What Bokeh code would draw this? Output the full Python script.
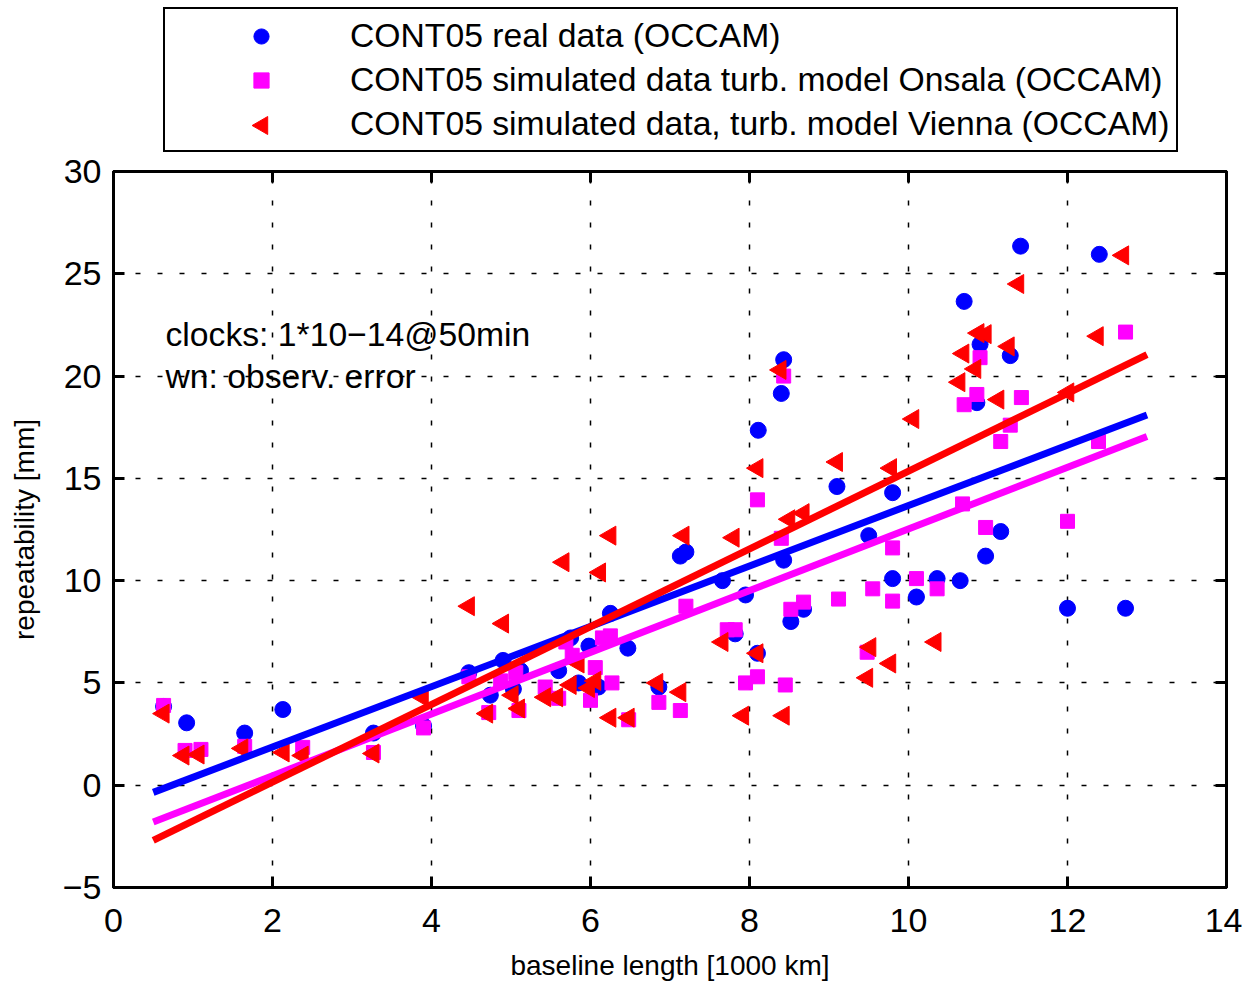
import numpy as np
from bokeh.plotting import figure
from bokeh.layouts import column
from bokeh.models import (Range1d, LinearAxis, FixedTicker, Legend, LegendItem,
                          Label, CustomJSTickFormatter)
from bokeh.embed import file_html
from bokeh.resources import INLINE

FONT = "Liberation Sans"

# ---------------- data ----------------
real_x = [0.63, 0.92, 1.65, 2.13, 3.27, 3.9, 4.47, 4.74, 4.9, 5.03, 5.12, 5.6, 5.75,
          5.85, 5.98, 6.1, 6.25, 6.47, 6.86, 7.13, 7.2, 7.66, 7.82, 7.95, 8.1, 8.11,
          8.4, 8.43, 8.43, 8.52, 8.68, 9.1, 9.5, 9.8, 9.8, 10.1, 10.36, 10.65, 10.7,
          10.86, 10.9, 10.97, 11.16, 11.28, 11.41, 12.0, 12.4, 12.73]
real_y = [3.85, 3.05, 2.55, 3.7, 2.55, 2.9, 5.5, 4.4, 6.1, 4.7, 5.6, 5.6, 7.2,
          5.0, 6.8, 4.8, 8.4, 6.7, 4.8, 11.2, 11.4, 10.0, 7.4, 9.3, 6.45, 17.35,
          19.15, 20.8, 11.0, 8.0, 8.6, 14.6, 12.2, 14.3, 10.1, 9.2, 10.1, 10.0, 23.65,
          18.7, 21.55, 11.2, 12.4, 21.0, 26.35, 8.65, 25.95, 8.65]

onsala_x = [0.63, 0.9, 1.1, 1.65, 2.38, 3.27, 3.9, 4.47, 4.72, 4.87, 5.06, 5.1, 5.43,
            5.6, 5.69, 5.77, 6.0, 6.06, 6.15, 6.25, 6.27, 6.48, 6.86, 7.13, 7.2, 7.72,
            7.82, 7.95, 8.1, 8.1, 8.4, 8.43, 8.45, 8.52, 8.68, 9.12, 9.48, 9.55, 9.8,
            9.8, 10.1, 10.36, 10.68, 10.7, 10.86, 10.9, 10.97, 11.16, 11.28, 11.42,
            12.0, 12.39, 12.73]
onsala_y = [3.9, 1.7, 1.75, 1.9, 1.85, 1.6, 2.8, 5.3, 3.55, 5.1, 5.5, 3.65, 4.8,
            4.25, 7.0, 6.35, 4.15, 5.75, 7.2, 7.3, 5.0, 3.2, 4.05, 3.65, 8.75, 7.6,
            7.6, 5.0, 5.3, 13.95, 12.07, 20.0, 4.9, 8.6, 8.95, 9.1, 6.5, 9.6, 11.6,
            9.0, 10.1, 9.6, 13.75, 18.6, 19.1, 20.9, 12.6, 16.8, 17.6, 18.95,
            12.9, 16.8, 22.15]

vienna_x = [0.63, 0.88, 1.07, 1.62, 2.14, 2.38, 3.27, 3.89, 4.47, 4.7, 4.9, 5.02, 5.1,
            5.43, 5.58, 5.66, 5.75, 5.85, 5.98, 6.06, 6.12, 6.25, 6.25, 6.48, 6.84,
            7.13, 7.17, 7.66, 7.8, 7.92, 8.1, 8.1, 8.39, 8.43, 8.5, 8.68, 9.1, 9.48,
            9.52, 9.77, 9.78, 10.06, 10.34, 10.64, 10.69, 10.84, 10.88, 10.97, 11.13,
            11.26, 11.38, 12.01, 12.38, 12.7]
vienna_y = [3.5, 1.45, 1.5, 1.8, 1.6, 1.45, 1.55, 4.3, 8.75, 3.5, 7.9, 4.4, 3.75,
            4.3, 4.3, 10.9, 4.9, 5.95, 4.75, 5.1, 10.4, 12.2, 3.3, 3.3, 5.0,
            4.55, 12.2, 7.0, 12.1, 3.4, 6.45, 15.5, 20.3, 3.4, 13.0, 13.3, 15.8, 5.25,
            6.75, 5.95, 15.5, 17.9, 7.0, 19.7, 21.1, 20.35, 22.1, 22.05, 18.85,
            21.45, 24.5, 19.2, 21.95, 25.9]

# linear fits (end values)
fit_x = [0.5, 13.0]
fit_real = [-0.35, 18.1]
fit_onsala = [-1.8, 17.05]
fit_vienna = [-2.7, 21.05]

x_ticks = [0, 2, 4, 6, 8, 10, 12, 14]
y_ticks = [-5, 0, 5, 10, 15, 20, 25, 30]

labels = ["CONT05 real data (OCCAM)",
          "CONT05 simulated data turb. model Onsala (OCCAM)",
          "CONT05 simulated data, turb. model Vienna (OCCAM)"]

BLUE, MAGENTA, RED = "#0000FF", "#FF00FF", "#FF0000"
LEFT, FRAME_W, RIGHT = 113, 1113, 16
W = LEFT + FRAME_W + RIGHT
LEG_H = 153

# ---------------- main figure ----------------
p = figure(frame_width=FRAME_W, frame_height=716, output_backend="svg", toolbar_location=None,
           x_range=Range1d(0, 14), y_range=Range1d(-5, 30),
           min_border_left=LEFT, min_border_right=RIGHT, min_border_top=171 - LEG_H,
           min_border_bottom=88)
p.background_fill_color = "white"
p.border_fill_color = "white"
p.outline_line_color = "black"
p.outline_line_width = 3

empty = CustomJSTickFormatter(code="return ''")
ax_right = LinearAxis(formatter=empty)
ax_top = LinearAxis(formatter=empty)
p.add_layout(ax_right, "right")
p.add_layout(ax_top, "above")

ax_bottom = p.below[0]
ax_left = p.left[0]
ax_bottom.ticker = FixedTicker(ticks=x_ticks)
ax_top.ticker = FixedTicker(ticks=x_ticks)
ax_left.ticker = FixedTicker(ticks=y_ticks)
ax_right.ticker = FixedTicker(ticks=y_ticks)
p.xgrid.ticker = FixedTicker(ticks=x_ticks)
p.ygrid.ticker = FixedTicker(ticks=y_ticks)

for ax in (ax_bottom, ax_left, ax_right, ax_top):
    ax.axis_line_color = "black"
    ax.axis_line_width = 3
    ax.major_tick_line_color = "black"
    ax.major_tick_line_width = 3
    ax.major_tick_in = 11
    ax.major_tick_out = 0
    ax.minor_tick_line_color = None
    ax.major_label_text_font = FONT
    ax.major_label_text_font_size = "34px"
    ax.major_label_text_color = "black"

for ax in (ax_right, ax_top):
    ax.major_label_text_font_size = "0px"
    ax.major_label_standoff = 0

ax_bottom.major_label_standoff = 21
ax_left.major_label_standoff = 12

ax_bottom.axis_label = "baseline length [1000 km]"
ax_left.axis_label = "repeatability [mm]"
for ax in (ax_bottom, ax_left):
    ax.axis_label_text_font = FONT
    ax.axis_label_text_font_size = "28px"
    ax.axis_label_text_font_style = "normal"
    ax.axis_label_text_color = "black"
ax_bottom.axis_label_standoff = 15
ax_left.axis_label_standoff = 20

p.grid.grid_line_color = "black"
p.grid.grid_line_width = 1.5
p.grid.grid_line_dash = "5 17"

# markers
p.scatter(real_x, real_y, marker="circle", size=16, fill_color=BLUE, line_color=BLUE)
p.scatter(onsala_x, onsala_y, marker="square", size=14, fill_color=MAGENTA, line_color=MAGENTA)
p.scatter(vienna_x, vienna_y, marker="triangle", size=19, angle=np.pi / 2,
          fill_color=RED, line_color=RED)

# fit lines
p.line(fit_x, fit_real, line_color=BLUE, line_width=7)
p.line(fit_x, fit_onsala, line_color=MAGENTA, line_width=7)
p.line(fit_x, fit_vienna, line_color=RED, line_width=7)

# annotation
p.add_layout(Label(x=0.654, y=22.04, text="clocks: 1*10\u221214@50min", text_font=FONT,
                   text_font_size="33.7px", text_baseline="middle", text_color="black"))
p.add_layout(Label(x=0.654, y=20.0, text="wn: observ. error", text_font=FONT,
                   text_font_size="33.7px", text_baseline="middle", text_color="black"))

# ---------------- legend figure (above the plot), pixel units ----------------
LEG_X, LEG_Y, PAD, GLYPH_W, GLYPH_H = 50, 1, 7, 178, 38
pl = figure(width=W, height=LEG_H, output_backend="svg", toolbar_location=None,
            x_range=Range1d(0, FRAME_W), y_range=Range1d(0, LEG_H),
            x_axis_type=None, y_axis_type=None,
            min_border_left=LEFT, min_border_right=RIGHT, min_border_top=0, min_border_bottom=0)
pl.outline_line_color = None
pl.grid.visible = False
pl.background_fill_color = "white"
pl.border_fill_color = "white"
nan = [float("nan")]
l1 = pl.scatter(nan, nan, marker="circle", size=16, fill_color=BLUE, line_color=BLUE)
l2 = pl.scatter(nan, nan, marker="square", size=14, fill_color=MAGENTA, line_color=MAGENTA)
# legend keys cannot be rotated, so the left-pointing key is drawn as its own marker
l3 = pl.scatter(nan, nan, marker="triangle", size=19, fill_alpha=0, line_alpha=0)
pl.scatter([LEG_X + PAD + GLYPH_W / 2 + 3], [LEG_Y + 1 + PAD + GLYPH_H / 2], marker="triangle",
           size=18, angle=np.pi / 2, fill_color=RED, line_color=RED)

legend = Legend(items=[LegendItem(label=labels[0], renderers=[l1]),
                       LegendItem(label=labels[1], renderers=[l2]),
                       LegendItem(label=labels[2], renderers=[l3])],
                location=(LEG_X, LEG_Y), orientation="vertical",
                label_text_font=FONT, label_text_font_size="33.7px", label_text_color="black",
                glyph_width=GLYPH_W, glyph_height=GLYPH_H, label_height=GLYPH_H, spacing=5,
                padding=PAD, label_standoff=0, margin=0,
                border_line_color="black", border_line_width=2.5, border_line_alpha=1.0,
                background_fill_alpha=0.0)
pl.add_layout(legend)

layout = column(pl, p, spacing=0)
open("out.html", "w").write(file_html(layout, INLINE))
